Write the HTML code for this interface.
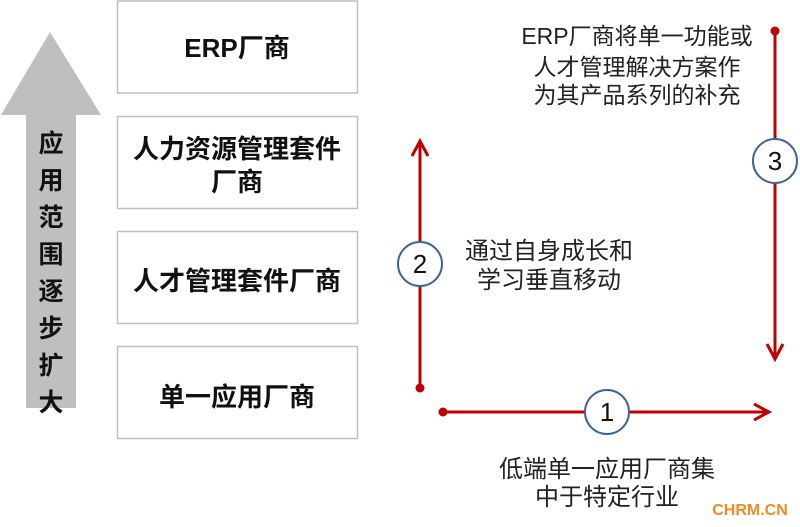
<!DOCTYPE html>
<html><head><meta charset="utf-8"><style>
html,body{margin:0;padding:0;background:#fff;}
svg{display:block;}
</style></head><body>
<svg width="800" height="527" viewBox="0 0 800 527" xmlns="http://www.w3.org/2000/svg" font-family="Liberation Sans, Noto Sans CJK SC, sans-serif">
<polygon points="50,32 101,115 76,115 76,408 26,408 26,115 1,115" fill="#bfbfbf"/>
<g font-size="25" font-weight="bold" fill="#111" text-anchor="middle">
<text x="51" y="152">应</text><text x="51" y="189">用</text><text x="51" y="226">范</text><text x="51" y="263">围</text><text x="51" y="300">逐</text><text x="51" y="337">步</text><text x="51" y="374">扩</text><text x="51" y="411">大</text>
</g>
<g fill="#fff" stroke="#bfbfbf" stroke-width="1.5">
<rect x="117.5" y="1" width="240" height="92"/>
<rect x="117.5" y="116.5" width="240" height="92"/>
<rect x="117.5" y="231.5" width="240" height="92"/>
<rect x="117.5" y="346.5" width="240" height="92"/>
</g>
<g font-size="26" font-weight="bold" fill="#111" text-anchor="middle">
<text x="237" y="57">ERP厂商</text>
<text x="237" y="158">人力资源管理套件</text>
<text x="237" y="191">厂商</text>
<text x="237" y="290">人才管理套件厂商</text>
<text x="237" y="406">单一应用厂商</text>
</g>
<g stroke="#c00000" stroke-width="3" fill="none">
<line x1="420" y1="388" x2="420" y2="142"/>
<polyline points="412,156 420,141 428,156"/>
<line x1="443" y1="412" x2="768" y2="412"/>
<polyline points="754,404 769,412 754,420"/>
<line x1="775" y1="31" x2="775" y2="358"/>
<polyline points="767,344 775,359 783,344"/>
</g>
<g fill="#c00000"><circle cx="420" cy="388" r="4.5"/><circle cx="443" cy="412" r="4.5"/><circle cx="775" cy="31" r="4.5"/></g>
<g fill="#fff" stroke="#3f6496" stroke-width="2">
<circle cx="420" cy="264" r="22"/><circle cx="607" cy="412" r="22"/><circle cx="775" cy="161" r="22"/>
</g>
<g font-size="26" fill="#111" text-anchor="middle">
<text x="420" y="273">2</text><text x="607" y="421">1</text><text x="775" y="170">3</text>
</g>
<g font-size="23" fill="#222" text-anchor="middle">
<text x="637" y="44">ERP厂商将单一功能或</text>
<text x="637" y="75">人才管理解决方案作</text>
<text x="637" y="103">为其产品系列的补充</text>
</g>
<g font-size="24" fill="#222" text-anchor="middle">
<text x="549" y="259">通过自身成长和</text>
<text x="549" y="288">学习垂直移动</text>
<text x="607" y="477">低端单一应用厂商集</text>
<text x="607" y="505">中于特定行业</text>
</g>
<text x="750" y="515" font-size="16" font-weight="bold" fill="#f08a24" text-anchor="middle">CHRM.CN</text>
</svg>
</body></html>
